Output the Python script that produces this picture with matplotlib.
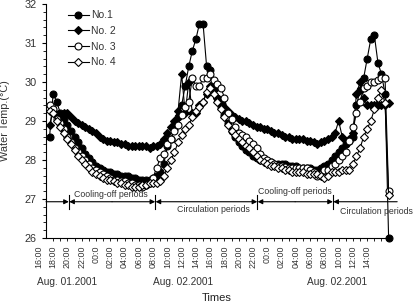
import numpy as np
import matplotlib
matplotlib.use("Agg")
import matplotlib.pyplot as plt
from matplotlib.transforms import blended_transform_factory

plt.rcParams['font.family'] = ['Liberation Sans', 'DejaVu Sans']

# hours since 16:00 Aug. 01, one reading every 30 min
hours = np.arange(1.5, 49.01, 0.5)

no1 = [28.6, 29.7, 29.5, 29.2, 29.05, 28.9, 28.75, 28.6, 28.45, 28.3,
       28.15, 28.05, 27.95, 27.85, 27.8, 27.75, 27.7, 27.7, 27.65, 27.65,
       27.6, 27.6, 27.6, 27.55, 27.55, 27.5, 27.5, 27.5, 27.5, 27.55,
       27.6, 27.7, 27.9, 28.35, 28.55, 28.8, 29.1, 29.4, 29.9, 30.4,
       30.8, 31.1, 31.5, 31.5, 30.4, 30.3, 29.9, 29.6, 29.35, 29.15,
       28.95, 28.75, 28.6, 28.45, 28.35, 28.25, 28.2, 28.1, 28.05, 28.0,
       28.0, 27.95, 27.95, 27.9, 27.9, 27.9, 27.9, 27.85, 27.85, 27.85,
       27.8, 27.8, 27.8, 27.8, 27.75, 27.75, 27.8, 27.85, 27.9, 28.0,
       28.1, 28.2, 28.3, 28.4, 28.5, 28.6, 29.4, 29.8, 30.1, 30.6,
       31.1, 31.2, 30.5, 30.2, 29.7, 26.0]

no2 = [28.9, 29.25, 29.15, 29.1, 29.2, 29.2, 29.1, 29.0, 28.95, 28.9,
       28.85, 28.8, 28.75, 28.7, 28.6, 28.55, 28.5, 28.5, 28.45, 28.45,
       28.4, 28.4, 28.35, 28.35, 28.35, 28.35, 28.35, 28.35, 28.3, 28.35,
       28.35, 28.4, 28.55, 28.7, 28.85, 29.0, 29.25, 30.2, 29.2, 30.0,
       29.2, 29.2, 29.4, 29.5, 29.7, 29.9, 29.8, 29.6, 29.45, 29.35,
       29.25, 29.15, 29.1, 29.05, 29.0, 29.0, 28.95, 28.9, 28.85, 28.85,
       28.8, 28.8, 28.75, 28.7, 28.7, 28.65, 28.6, 28.6, 28.55, 28.55,
       28.55, 28.55, 28.5, 28.5, 28.45, 28.4, 28.45, 28.5, 28.55, 28.6,
       28.7, 29.0, 28.6, 28.5, 28.55, 28.7, 29.7, 30.0, 29.6, 29.4,
       29.4, 29.4, 29.4, 29.4, 29.4, 29.45]

no3 = [29.4, 29.3, 29.05, 28.95, 28.8, 28.6, 28.45, 28.3, 28.2, 28.1,
       28.0, 27.9, 27.8, 27.75, 27.7, 27.65, 27.6, 27.55, 27.5, 27.5,
       27.45, 27.45, 27.4, 27.4, 27.35, 27.35, 27.3, 27.35, 27.4, 27.55,
       27.8, 28.05, 28.15, 28.4, 28.55, 28.75, 28.9, 29.15, 29.35, 29.5,
       30.1, 29.9, 29.9, 30.1, 30.1, 30.2, 30.05, 29.95, 29.85, 29.6,
       29.2, 29.05, 28.85, 28.7, 28.65, 28.6, 28.5, 28.4, 28.3, 28.15,
       28.05, 28.0, 27.95, 27.9, 27.85, 27.85, 27.82, 27.8, 27.8, 27.8,
       27.8, 27.8, 27.8, 27.75, 27.7, 27.6, 27.65, 27.75, 27.75, 27.85,
       27.9, 28.0, 28.1, 28.2, 28.5, 28.85, 29.2, 29.5, 29.85, 29.9,
       30.0, 30.0, 30.05, 30.1, 30.1, 27.2]

no4 = [29.25, 29.2, 29.0, 28.85, 28.7, 28.55, 28.4, 28.25, 28.1, 28.0,
       27.9, 27.8, 27.7, 27.65, 27.6, 27.55, 27.5, 27.5, 27.45, 27.4,
       27.4, 27.35, 27.35, 27.3, 27.3, 27.3, 27.35, 27.35, 27.4, 27.4,
       27.4, 27.45, 27.6, 27.8, 28.0, 28.2, 28.45, 28.65, 28.8, 28.9,
       29.1, 29.25, 29.35, 29.5, 29.75, 29.85, 29.7, 29.5, 29.3, 29.1,
       28.9, 28.75, 28.65, 28.55, 28.45, 28.35, 28.3, 28.2, 28.1, 28.0,
       27.95, 27.9, 27.85, 27.85, 27.8, 27.8, 27.75, 27.75, 27.7, 27.7,
       27.7, 27.7, 27.65, 27.65, 27.65, 27.65, 27.6, 27.55, 27.6, 27.7,
       27.7, 27.7, 27.75, 27.75, 27.75, 27.9, 28.1, 28.3, 28.6, 28.8,
       29.0, 29.3, 29.6, 29.8, 29.45, 27.1]

tick_hours = list(range(0, 47, 2))
tick_labels = ["16:00", "18:00", "20:00", "22:00", "00:0", "02:00", "04:00", "06:00",
               "08:00", "10:00", "12:00", "14:00"] * 2
dates = ["Aug. 01.2001", "Aug. 02.2001", "Aug. 02.2001"]
date_pos = [4.0, 20.2, 41.8]

# period boundaries (hours) and labels
bounds = [1.0, 4.2, 16.3, 30.6, 41.2, 50.2]
periods = ["Cooling-off periods", "Circulation periods",
           "Cooling-off periods", "Circulation periods"]
period_pos = [(10.1, 27.12), (24.4, 26.72), (35.8, 27.2), (47.3, 26.67)]

fig = plt.figure(figsize=(4.16, 3.03), dpi=100)
ax = fig.add_axes([0.1106, 0.2145, 0.827, 0.7723])

styles = [
    ("No.1", no1, "o", "black", 5.0),
    ("No. 2", no2, "D", "black", 4.0),
    ("No. 3", no3, "o", "white", 5.0),
    ("No. 4", no4, "D", "white", 4.0),
]
for name, vals, mk, face, ms in styles:
    ax.plot(hours, vals, color="black", lw=0.8, marker=mk, ms=ms,
            mfc=face, mec="black", mew=0.8, label=name, clip_on=False)

ax.set_xlim(1.0, 49.2)
ax.set_ylim(26, 32)
ax.spines["top"].set_visible(False)
ax.spines["right"].set_visible(False)
for s in ("left", "bottom"):
    ax.spines[s].set_linewidth(0.8)

ax.set_yticks(range(26, 33))
ax.set_yticks(np.arange(26, 32.01, 0.2), minor=True)
ax.tick_params(axis="y", which="major", length=3, width=0.8, labelsize=7.8,
               labelcolor="#333333")
ax.tick_params(axis="y", which="minor", length=2, width=0.6)

ax.set_xticks(range(2, 50))
ax.set_xticklabels([])
ax.tick_params(axis="x", which="major", length=2.5, width=0.6)

tr = blended_transform_factory(ax.transData, ax.transAxes)
for h, lab in zip(tick_hours, tick_labels):
    ax.text(h, -0.03, lab, transform=tr, rotation=90, ha="center", va="top",
            fontsize=6.4, color="#333333", clip_on=False)
for d, x in zip(dates, date_pos):
    ax.text(x, -0.19, d, transform=tr, ha="center", va="center",
            fontsize=7.3, color="#333333", clip_on=False)
ax.text(24.9, -0.256, "Times", transform=tr, ha="center", va="center",
        fontsize=8, color="#222222", clip_on=False)

ax.set_ylabel("Water Temp.(\u00b0C)", fontsize=7.8, color="#333333")
ax.yaxis.set_label_coords(-0.105, 0.5)

# period arrows
y_arrow = 26.93
ap = dict(arrowstyle="-|>", color="black", lw=0.8, mutation_scale=7,
          shrinkA=0, shrinkB=0)
ax.annotate("", xy=(bounds[1], y_arrow), xytext=(bounds[0], y_arrow),
            arrowprops=ap, annotation_clip=False)
for a, b in zip(bounds[1:4], bounds[2:5]):
    ax.annotate("", xy=(b, y_arrow), xytext=((a + b) / 2, y_arrow),
                arrowprops=ap, annotation_clip=False)
    ax.annotate("", xy=(a + 0.05, y_arrow), xytext=((a + b) / 2, y_arrow),
                arrowprops=ap, annotation_clip=False)
ax.annotate("", xy=(bounds[4] + 0.05, y_arrow), xytext=(bounds[5], y_arrow),
            arrowprops=ap, annotation_clip=False)
for b in bounds[1:5]:
    ax.plot([b, b], [26.75, 27.1], color="black", lw=0.8, clip_on=False)
for lab, (x, y) in zip(periods, period_pos):
    ax.text(x, y, lab, ha="center", va="center", fontsize=6.3,
            color="#333333", clip_on=False)

ax.legend(loc="upper left", bbox_to_anchor=(0.045, 1.0), frameon=False,
          fontsize=7.5, handlelength=2.0, handletextpad=0.25,
          labelspacing=0.55, borderaxespad=0.2, labelcolor="#333333")

fig.savefig("out.png", dpi=100)
